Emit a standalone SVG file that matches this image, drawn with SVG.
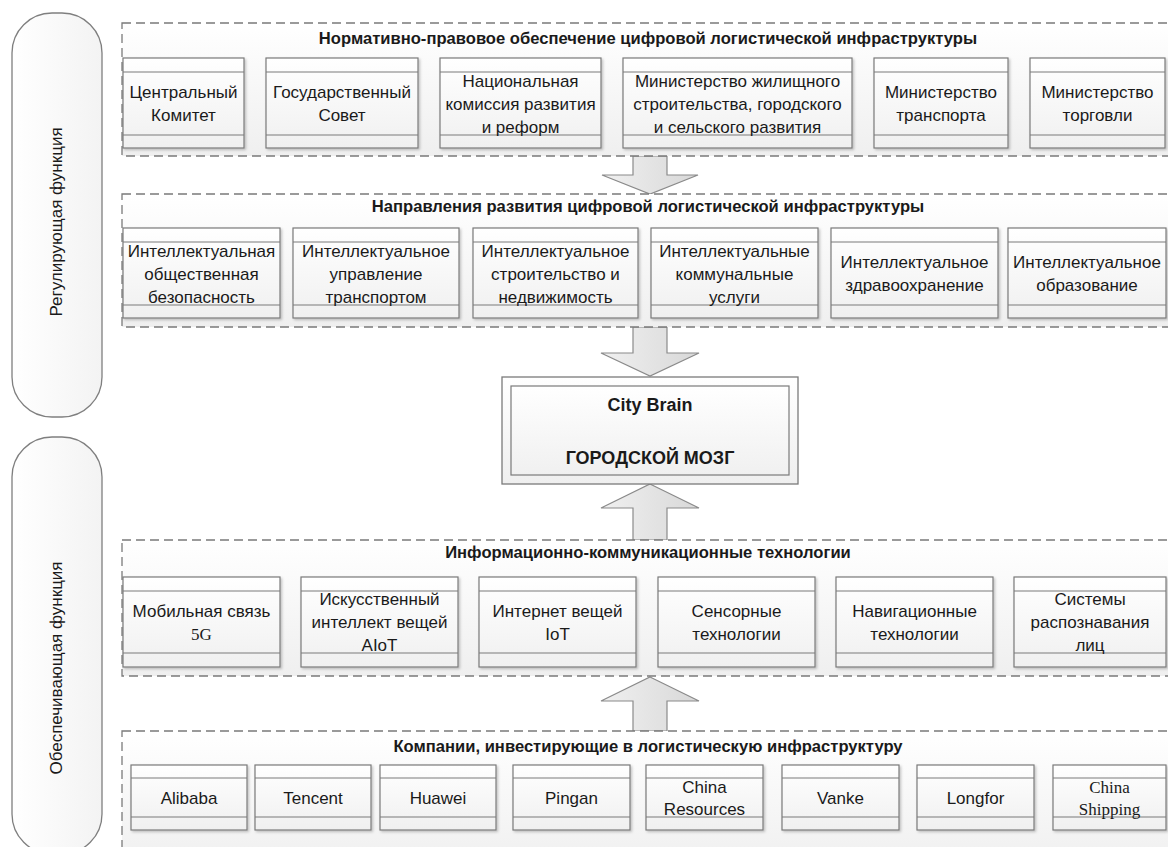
<svg xmlns="http://www.w3.org/2000/svg" width="1168" height="847" viewBox="0 0 1168 847">
<defs>
<linearGradient id="gc" x1="0" y1="0" x2="0" y2="1"><stop offset="0" stop-color="#ffffff"/><stop offset="1" stop-color="#efefef"/></linearGradient>
<linearGradient id="gb" x1="0" y1="0" x2="0" y2="1"><stop offset="0" stop-color="#ffffff"/><stop offset="1" stop-color="#f0f0f0"/></linearGradient>
<linearGradient id="gp" x1="0" y1="0" x2="1" y2="0"><stop offset="0" stop-color="#ffffff"/><stop offset="1" stop-color="#f3f3f3"/></linearGradient>
<linearGradient id="ga" x1="0" y1="0" x2="1" y2="0"><stop offset="0" stop-color="#f0f0f0"/><stop offset="1" stop-color="#d8d8d8"/></linearGradient>
<filter id="sh" x="-5%" y="-5%" width="115%" height="120%"><feDropShadow dx="1.5" dy="1.5" stdDeviation="1" flood-color="#000" flood-opacity="0.22"/></filter>
<style>
.cont{fill:url(#gc);stroke:#7a7a7a;stroke-width:1.3;stroke-dasharray:9 5}
.box{fill:url(#gb);stroke:#7a7a7a;stroke-width:1.2;filter:url(#sh)}
.ln{stroke:#7a7a7a;stroke-width:1.2}
.pill{fill:url(#gp);stroke:#7f7f7f;stroke-width:1.3}
.arrow{fill:url(#ga);stroke:#8a8a8a;stroke-width:1.2}
text{font-family:"Liberation Sans",Arial,sans-serif;fill:#1a1a1a}
.t{font-size:17px;text-anchor:middle}
.serif{font-family:"Liberation Serif","Times New Roman",serif}
.ttl{font-size:16.6px;font-weight:bold;text-anchor:middle}
.big{font-size:18px;font-weight:bold;text-anchor:middle}
.side{font-size:17px;text-anchor:middle}
</style>
</defs>
<rect width="1168" height="847" fill="#ffffff"/>

<g id="pill-regulating">
<rect class="pill" x="12" y="13" width="90" height="404" rx="40" ry="40"/>
<text class="side" transform="translate(62,222) rotate(-90)">Регулирующая функция</text>
</g>
<g id="pill-supporting">
<rect class="pill" x="12" y="437" width="90" height="417" rx="40" ry="40"/>
<text class="side" transform="translate(62,668) rotate(-90)">Обеспечивающая функция</text>
</g>

<g id="connectors">
<path class="arrow" d="M633,156 L667,156 L667,175 L698,175 L650,194 L602,175 L633,175 Z"/>
<path class="arrow" d="M633,327 L667,327 L667,353 L699,353 L650,376 L601,353 L633,353 Z"/>
<path class="arrow" d="M650,484 L699,508 L667,508 L667,540 L633,540 L633,508 L601,508 Z"/>
<path class="arrow" d="M650,677 L699,701 L667,701 L667,731 L633,731 L633,701 L601,701 Z"/>
</g>

<g id="sec-legal">
<rect class="cont" x="122" y="23" width="1060" height="133"/>
<text class="ttl" x="648" y="44">Нормативно-правовое обеспечение цифровой логистической инфраструктуры</text>
<g id="n-cc"><rect class="box" x="123" y="58" width="121" height="90"/><line class="ln" x1="123" y1="72" x2="244" y2="72"/><line class="ln" x1="123" y1="135" x2="244" y2="135"/>
<text class="t" x="183.5" y="98">Центральный</text><text class="t" x="183.5" y="121">Комитет</text></g>
<g id="n-gs"><rect class="box" x="266" y="58" width="152" height="90"/><line class="ln" x1="266" y1="72" x2="418" y2="72"/><line class="ln" x1="266" y1="135" x2="418" y2="135"/>
<text class="t" x="342" y="98">Государственный</text><text class="t" x="342" y="121">Совет</text></g>
<g id="n-ndrc"><rect class="box" x="440" y="58" width="161" height="90"/><line class="ln" x1="440" y1="72" x2="601" y2="72"/><line class="ln" x1="440" y1="135" x2="601" y2="135"/>
<text class="t" x="520.5" y="86.5">Национальная</text><text class="t" x="520.5" y="109.5">комиссия развития</text><text class="t" x="520.5" y="132.5">и реформ</text></g>
<g id="n-mhurd"><rect class="box" x="623" y="58" width="229" height="90"/><line class="ln" x1="623" y1="72" x2="852" y2="72"/><line class="ln" x1="623" y1="135" x2="852" y2="135"/>
<text class="t" x="737.5" y="86.5">Министерство жилищного</text><text class="t" x="737.5" y="109.5">строительства, городского</text><text class="t" x="737.5" y="132.5">и сельского развития</text></g>
<g id="n-mot"><rect class="box" x="874" y="58" width="134" height="90"/><line class="ln" x1="874" y1="72" x2="1008" y2="72"/><line class="ln" x1="874" y1="135" x2="1008" y2="135"/>
<text class="t" x="941" y="98">Министерство</text><text class="t" x="941" y="121">транспорта</text></g>
<g id="n-mofcom"><rect class="box" x="1030" y="58" width="135" height="90"/><line class="ln" x1="1030" y1="72" x2="1165" y2="72"/><line class="ln" x1="1030" y1="135" x2="1165" y2="135"/>
<text class="t" x="1097.5" y="98">Министерство</text><text class="t" x="1097.5" y="121">торговли</text></g>
</g>

<g id="sec-directions">
<rect class="cont" x="122" y="194" width="1060" height="133"/>
<text class="ttl" x="648" y="212">Направления развития цифровой логистической инфраструктуры</text>
<g id="n-sec"><rect class="box" x="123" y="228" width="157" height="90"/><line class="ln" x1="123" y1="242" x2="280" y2="242"/><line class="ln" x1="123" y1="305" x2="280" y2="305"/>
<text class="t" x="201.5" y="256.5">Интеллектуальная</text><text class="t" x="201.5" y="279.5">общественная</text><text class="t" x="201.5" y="302.5">безопасность</text></g>
<g id="n-trans"><rect class="box" x="293" y="228" width="166" height="90"/><line class="ln" x1="293" y1="242" x2="459" y2="242"/><line class="ln" x1="293" y1="305" x2="459" y2="305"/>
<text class="t" x="376" y="256.5">Интеллектуальное</text><text class="t" x="376" y="279.5">управление</text><text class="t" x="376" y="302.5">транспортом</text></g>
<g id="n-build"><rect class="box" x="473" y="228" width="165" height="90"/><line class="ln" x1="473" y1="242" x2="638" y2="242"/><line class="ln" x1="473" y1="305" x2="638" y2="305"/>
<text class="t" x="555.5" y="256.5">Интеллектуальное</text><text class="t" x="555.5" y="279.5">строительство и</text><text class="t" x="555.5" y="302.5">недвижимость</text></g>
<g id="n-util"><rect class="box" x="651" y="228" width="167" height="90"/><line class="ln" x1="651" y1="242" x2="818" y2="242"/><line class="ln" x1="651" y1="305" x2="818" y2="305"/>
<text class="t" x="734.5" y="256.5">Интеллектуальные</text><text class="t" x="734.5" y="279.5">коммунальные</text><text class="t" x="734.5" y="302.5">услуги</text></g>
<g id="n-health"><rect class="box" x="831" y="228" width="167" height="90"/><line class="ln" x1="831" y1="242" x2="998" y2="242"/><line class="ln" x1="831" y1="305" x2="998" y2="305"/>
<text class="t" x="914.5" y="268">Интеллектуальное</text><text class="t" x="914.5" y="291">здравоохранение</text></g>
<g id="n-edu"><rect class="box" x="1008" y="228" width="158" height="90"/><line class="ln" x1="1008" y1="242" x2="1166" y2="242"/><line class="ln" x1="1008" y1="305" x2="1166" y2="305"/>
<text class="t" x="1087" y="268">Интеллектуальное</text><text class="t" x="1087" y="291">образование</text></g>
</g>

<g id="city-brain">
<rect x="502" y="377" width="296" height="107" fill="url(#gc)" stroke="#7a7a7a" stroke-width="1.3"/>
<rect x="511" y="386" width="278" height="89" fill="url(#gb)" stroke="#7a7a7a" stroke-width="1.2"/>
<text class="big" x="650" y="411">City Brain</text>
<text class="big" x="650" y="464">ГОРОДСКОЙ МОЗГ</text>
</g>

<g id="sec-ict">
<rect class="cont" x="122" y="540" width="1060" height="136"/>
<text class="ttl" x="648" y="558">Информационно-коммуникационные технологии</text>
<g id="n-5g"><rect class="box" x="123" y="577" width="157" height="90"/><line class="ln" x1="123" y1="591" x2="280" y2="591"/><line class="ln" x1="123" y1="653" x2="280" y2="653"/>
<text class="t" x="201.5" y="616.5">Мобильная связь</text><text class="t serif" x="201.5" y="639.5">5G</text></g>
<g id="n-aiot"><rect class="box" x="301" y="577" width="157" height="90"/><line class="ln" x1="301" y1="591" x2="458" y2="591"/><line class="ln" x1="301" y1="653" x2="458" y2="653"/>
<text class="t" x="379.5" y="605">Искусственный</text><text class="t" x="379.5" y="628">интеллект вещей</text><text class="t" x="379.5" y="651">AIoT</text></g>
<g id="n-iot"><rect class="box" x="479" y="577" width="157" height="90"/><line class="ln" x1="479" y1="591" x2="636" y2="591"/><line class="ln" x1="479" y1="653" x2="636" y2="653"/>
<text class="t" x="557.5" y="616.5">Интернет вещей</text><text class="t" x="557.5" y="639.5">IoT</text></g>
<g id="n-sensor"><rect class="box" x="658" y="577" width="157" height="90"/><line class="ln" x1="658" y1="591" x2="815" y2="591"/><line class="ln" x1="658" y1="653" x2="815" y2="653"/>
<text class="t" x="736.5" y="616.5">Сенсорные</text><text class="t" x="736.5" y="639.5">технологии</text></g>
<g id="n-nav"><rect class="box" x="836" y="577" width="157" height="90"/><line class="ln" x1="836" y1="591" x2="993" y2="591"/><line class="ln" x1="836" y1="653" x2="993" y2="653"/>
<text class="t" x="914.5" y="616.5">Навигационные</text><text class="t" x="914.5" y="639.5">технологии</text></g>
<g id="n-face"><rect class="box" x="1014" y="577" width="152" height="90"/><line class="ln" x1="1014" y1="591" x2="1166" y2="591"/><line class="ln" x1="1014" y1="653" x2="1166" y2="653"/>
<text class="t" x="1090" y="605">Системы</text><text class="t" x="1090" y="628">распознавания</text><text class="t" x="1090" y="651">лиц</text></g>
</g>

<g id="sec-companies">
<rect class="cont" x="122" y="731" width="1060" height="140"/>
<text class="ttl" x="648" y="752">Компании, инвестирующие в логистическую инфраструктуру</text>
<g id="n-alibaba"><rect class="box" x="131" y="765" width="116" height="65"/><line class="ln" x1="131" y1="778" x2="247" y2="778"/><line class="ln" x1="131" y1="817" x2="247" y2="817"/>
<text class="t" x="189" y="803.5">Alibaba</text></g>
<g id="n-tencent"><rect class="box" x="255" y="765" width="116" height="65"/><line class="ln" x1="255" y1="778" x2="371" y2="778"/><line class="ln" x1="255" y1="817" x2="371" y2="817"/>
<text class="t" x="313" y="803.5">Tencent</text></g>
<g id="n-huawei"><rect class="box" x="380" y="765" width="116" height="65"/><line class="ln" x1="380" y1="778" x2="496" y2="778"/><line class="ln" x1="380" y1="817" x2="496" y2="817"/>
<text class="t" x="438" y="803.5">Huawei</text></g>
<g id="n-pingan"><rect class="box" x="513" y="765" width="117" height="65"/><line class="ln" x1="513" y1="778" x2="630" y2="778"/><line class="ln" x1="513" y1="817" x2="630" y2="817"/>
<text class="t" x="571.5" y="803.5">Pingan</text></g>
<g id="n-cr"><rect class="box" x="646" y="765" width="117" height="65"/><line class="ln" x1="646" y1="778" x2="763" y2="778"/><line class="ln" x1="646" y1="817" x2="763" y2="817"/>
<text class="t" x="704.5" y="792.5">China</text><text class="t" x="704.5" y="814.5">Resources</text></g>
<g id="n-vanke"><rect class="box" x="782" y="765" width="117" height="65"/><line class="ln" x1="782" y1="778" x2="899" y2="778"/><line class="ln" x1="782" y1="817" x2="899" y2="817"/>
<text class="t" x="840.5" y="803.5">Vanke</text></g>
<g id="n-longfor"><rect class="box" x="917" y="765" width="117" height="65"/><line class="ln" x1="917" y1="778" x2="1034" y2="778"/><line class="ln" x1="917" y1="817" x2="1034" y2="817"/>
<text class="t" x="975.5" y="803.5">Longfor</text></g>
<g id="n-cs"><rect class="box" x="1053" y="765" width="113" height="65"/><line class="ln" x1="1053" y1="778" x2="1166" y2="778"/><line class="ln" x1="1053" y1="817" x2="1166" y2="817"/>
<text class="t serif" x="1109.5" y="792.5">China</text><text class="t serif" x="1109.5" y="814.5">Shipping</text></g>
</g>
</svg>
